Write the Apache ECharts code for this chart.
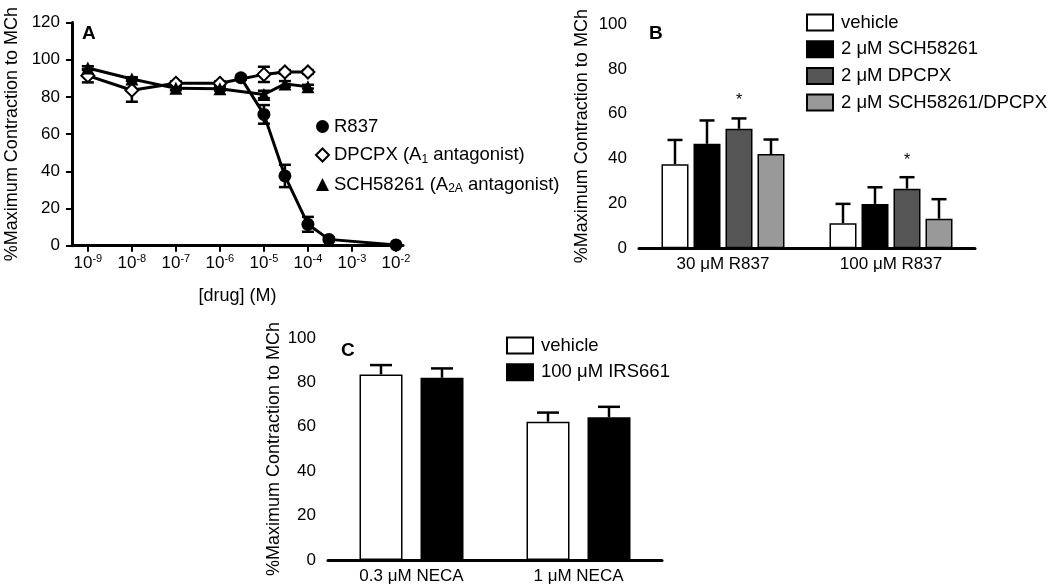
<!DOCTYPE html>
<html lang="en">
<head>
<meta charset="utf-8">
<title>R837 contraction</title>
<script src="https://cdn.jsdelivr.net/npm/echarts@6/dist/echarts.min.js"></script>
<style>html,body{margin:0;padding:0;background:#fff}#main{width:1050px;height:588px}</style>
</head>
<body>
<div id="main"></div>
<script>
// panel A - concentration (M) vs % max contraction
var concA = [1e-9, 1e-8, 1e-7, 1e-6, 1e-5, 3e-5, 1e-4];
var concR837 = [3e-6, 1e-5, 3e-5, 1e-4, 3e-4, 1e-2];
var r837 = [90.3, 70.6, 37.5, 11.5, 3.4, 0.4];
var r837Err = [1, 5, 6, 4, 1, 0];
var dpcpx = [91.4, 83.6, 87.3, 87.3, 92.1, 93.4, 93.4];
var dpcpxErr = [3.6, 6.2, 1, 1, 4.1, 1, 1];
var sch = [95.5, 89.6, 84.6, 84.4, 81.3, 87, 85.5];
var schErr = [1, 1, 1, 1, 2, 1.5, 1];
var expTicks = [-9, -8, -7, -6, -5, -4, -3, -2];

// panel B
var catB = ['30 μM R837', '100 μM R837'];
var namesB = ['vehicle', '2 μM SCH58261', '2 μM DPCPX', '2 μM SCH58261/DPCPX'];
var valsB = [[37.5, 11.2], [46.6, 19.8], [53.3, 26.6], [42, 13.2]];
var errB = [[10.8, 8.6], [10.4, 7.4], [4.6, 5.1], [6.5, 8.7]];
var colorsB = ['#ffffff', '#000000', '#555555', '#999999'];

// panel C
var catC = ['0.3 μM NECA', '1 μM NECA'];
var namesC = ['vehicle', '100 μM IRS661'];
var valsC = [[83.6, 62.3], [82.1, 64.3]];
var errC = [[4.2, 4.1], [4.2, 4.7]];
var colorsC = ['#ffffff', '#000000'];

var FONT = 'Liberation Sans, Arial, sans-serif';
var chart = echarts.init(document.getElementById('main'));

var axLine = {lineStyle: {color: '#000', width: 3}};
var axTick = {length: 6, lineStyle: {color: '#000', width: 2}};
var axLabel = {color: '#000', fontSize: 17, fontFamily: FONT, margin: 8};
var yLabel = Object.assign({}, axLabel, {margin: 12});
var nameStyle = {color: '#000', fontSize: 18, fontFamily: FONT};

function yAx(grid, max, gap) {
    return {
        type: 'value', gridIndex: grid, min: 0, max: max, interval: 20,
        splitLine: {show: false}, axisLine: axLine, axisTick: axTick, axisLabel: yLabel,
        name: '%Maximum Contraction to MCh', nameLocation: 'middle', nameGap: gap,
        nameTextStyle: nameStyle
    };
}

function catAx(grid, cats) {
    return {
        type: 'category', gridIndex: grid, data: cats,
        axisLine: axLine, axisTick: {show: false}, axisLabel: axLabel
    };
}

// error bars: data rows are [x, mean, err]
function errSeries(xi, yi, data, offset, capW, both) {
    return {
        type: 'custom', xAxisIndex: xi, yAxisIndex: yi, silent: true, z: 3,
        data: data,
        renderItem: function (params, api) {
            var x = api.value(0), m = api.value(1), e = api.value(2);
            var top = api.coord([x, m + e]);
            var bot = api.coord([x, both ? m - e : m]);
            var cx = top[0] + offset;
            var st = {stroke: '#000', lineWidth: 2.5};
            var kids = [
                {type: 'line', shape: {x1: cx, y1: top[1], x2: cx, y2: bot[1]}, style: st},
                {type: 'line', shape: {x1: cx - capW / 2, y1: top[1], x2: cx + capW / 2, y2: top[1]}, style: st}
            ];
            if (both) {
                kids.push({type: 'line', shape: {x1: cx - capW / 2, y1: bot[1], x2: cx + capW / 2, y2: bot[1]}, style: st});
            }
            return {type: 'group', children: kids};
        }
    };
}

function logPts(conc, vals) {
    return conc.map(function (c, i) { return [Math.log10(c), vals[i]]; });
}
function logErr(conc, vals, errs) {
    return conc.map(function (c, i) { return [Math.log10(c), vals[i], errs[i]]; });
}

function lineSeries(name, conc, vals, symbol, fill) {
    return {
        type: 'line', name: name, xAxisIndex: 0, yAxisIndex: 0, z: 5,
        data: logPts(conc, vals), symbol: symbol, symbolSize: 13,
        lineStyle: {color: '#000', width: 3},
        itemStyle: {color: fill, borderColor: '#000', borderWidth: fill === '#fff' ? 2 : 0},
        emphasis: {disabled: true}
    };
}

var series = [
    errSeries(0, 0, logErr(concA, dpcpx, dpcpxErr), 0, 12, true),
    errSeries(0, 0, logErr(concA, sch, schErr), 0, 12, true),
    errSeries(0, 0, logErr(concR837, r837, r837Err), 0, 12, true),
    lineSeries('DPCPX (A1 antagonist)', concA, dpcpx, 'diamond', '#fff'),
    lineSeries('SCH58261 (A2A antagonist)', concA, sch, 'triangle', '#000'),
    lineSeries('R837', concR837, r837, 'circle', '#000')
];

// panel B bars
var barWB = 27, gapB = 5;
namesB.forEach(function (n, i) {
    var s = {
        type: 'bar', name: n, xAxisIndex: 1, yAxisIndex: 1, data: valsB[i],
        barWidth: barWB, barGap: (gapB / barWB * 100) + '%',
        itemStyle: {color: colorsB[i], borderColor: '#000', borderWidth: 1.5}
    };
    if (i === 2) {
        s.label = {show: true, position: 'top', distance: 20, formatter: '*', color: '#000', fontSize: 16, fontFamily: FONT};
    }
    series.push(s);
    series.push(errSeries(1, 1, valsB[i].map(function (v, k) { return [k, v, errB[i][k]]; }),
        (i - (namesB.length - 1) / 2) * (barWB + gapB), 15, false));
});

// panel C bars
var barWC = 43, gapC = 18;
namesC.forEach(function (n, i) {
    series.push({
        type: 'bar', name: n, xAxisIndex: 2, yAxisIndex: 2, data: valsC[i],
        barWidth: barWC, barGap: (gapC / barWC * 100) + '%',
        itemStyle: {color: colorsC[i], borderColor: '#000', borderWidth: 1.5}
    });
    series.push(errSeries(2, 2, valsC[i].map(function (v, k) { return [k, v, errC[i][k]]; }),
        (i - (namesC.length - 1) / 2) * (barWC + gapC), 22, false));
});

var legendText = {color: '#000', fontSize: 18.5, fontFamily: FONT, lineHeight: 19,
    rich: {sub: {fontSize: 12, fontFamily: FONT, color: '#000', padding: [9, 0, 0, 0]}}};

chart.setOption({
    animation: false,
    backgroundColor: '#fff',
    grid: [
        {left: 72, right: 647, top: 22.5, bottom: 342.3, containLabel: false, outerBoundsMode: 'none'},
        {left: 639, right: 75, top: 24, bottom: 339.7, containLabel: false, outerBoundsMode: 'none'},
        {left: 328, right: 388, top: 338, bottom: 28, containLabel: false, outerBoundsMode: 'none'}
    ],
    xAxis: [
        {
            type: 'value', gridIndex: 0, min: -9.36, max: -1.84,
            splitLine: {show: false}, axisLine: axLine,
            axisTick: Object.assign({customValues: expTicks}, axTick),
            axisLabel: Object.assign({}, axLabel, {
                customValues: expTicks,
                formatter: function (v) { return '{b|10}{s|' + v + '}'; },
                rich: {
                    b: {fontSize: 17, fontFamily: FONT, color: '#000'},
                    s: {fontSize: 11, fontFamily: FONT, color: '#000', padding: [0, 0, 9, 0]}
                }
            }),
            name: '[drug] (M)', nameLocation: 'middle', nameGap: 41, nameTextStyle: nameStyle
        },
        catAx(1, catB),
        catAx(2, catC)
    ],
    yAxis: [yAx(0, 120, 51), yAx(1, 100, 48), yAx(2, 100, 45)],
    legend: [
        {
            left: 310, top: 112, orient: 'vertical', itemWidth: 13, itemHeight: 13, itemGap: 9.5,
            selectedMode: false, textStyle: legendText,
            data: [{name: 'R837', icon: 'circle'}, {name: 'DPCPX (A1 antagonist)', icon: 'diamond'},
                {name: 'SCH58261 (A2A antagonist)', icon: 'triangle'}],
            formatter: function (n) {
                return n.replace('A1 ', 'A{sub|1} ').replace('A2A ', 'A{sub|2A} ');
            }
        },
        {
            left: 801, top: 8, orient: 'vertical', itemWidth: 26, itemHeight: 16, itemGap: 7.7,
            selectedMode: false, icon: 'rect',
            textStyle: Object.assign({}, legendText, {padding: [0, 0, 0, 3]}),
            data: namesB
        },
        {
            left: 501, top: 331, orient: 'vertical', itemWidth: 26, itemHeight: 16, itemGap: 7.7,
            selectedMode: false, icon: 'rect',
            textStyle: Object.assign({}, legendText, {padding: [0, 0, 0, 3]}),
            data: namesC
        }
    ],
    graphic: [
        {type: 'text', left: 82, top: 24, style: {text: 'A', font: 'bold 19px ' + FONT, fill: '#000'}},
        {type: 'text', left: 649, top: 24, style: {text: 'B', font: 'bold 19px ' + FONT, fill: '#000'}},
        {type: 'text', left: 341, top: 341, style: {text: 'C', font: 'bold 19px ' + FONT, fill: '#000'}}
    ],
    series: series
});
</script>
</body>
</html>
